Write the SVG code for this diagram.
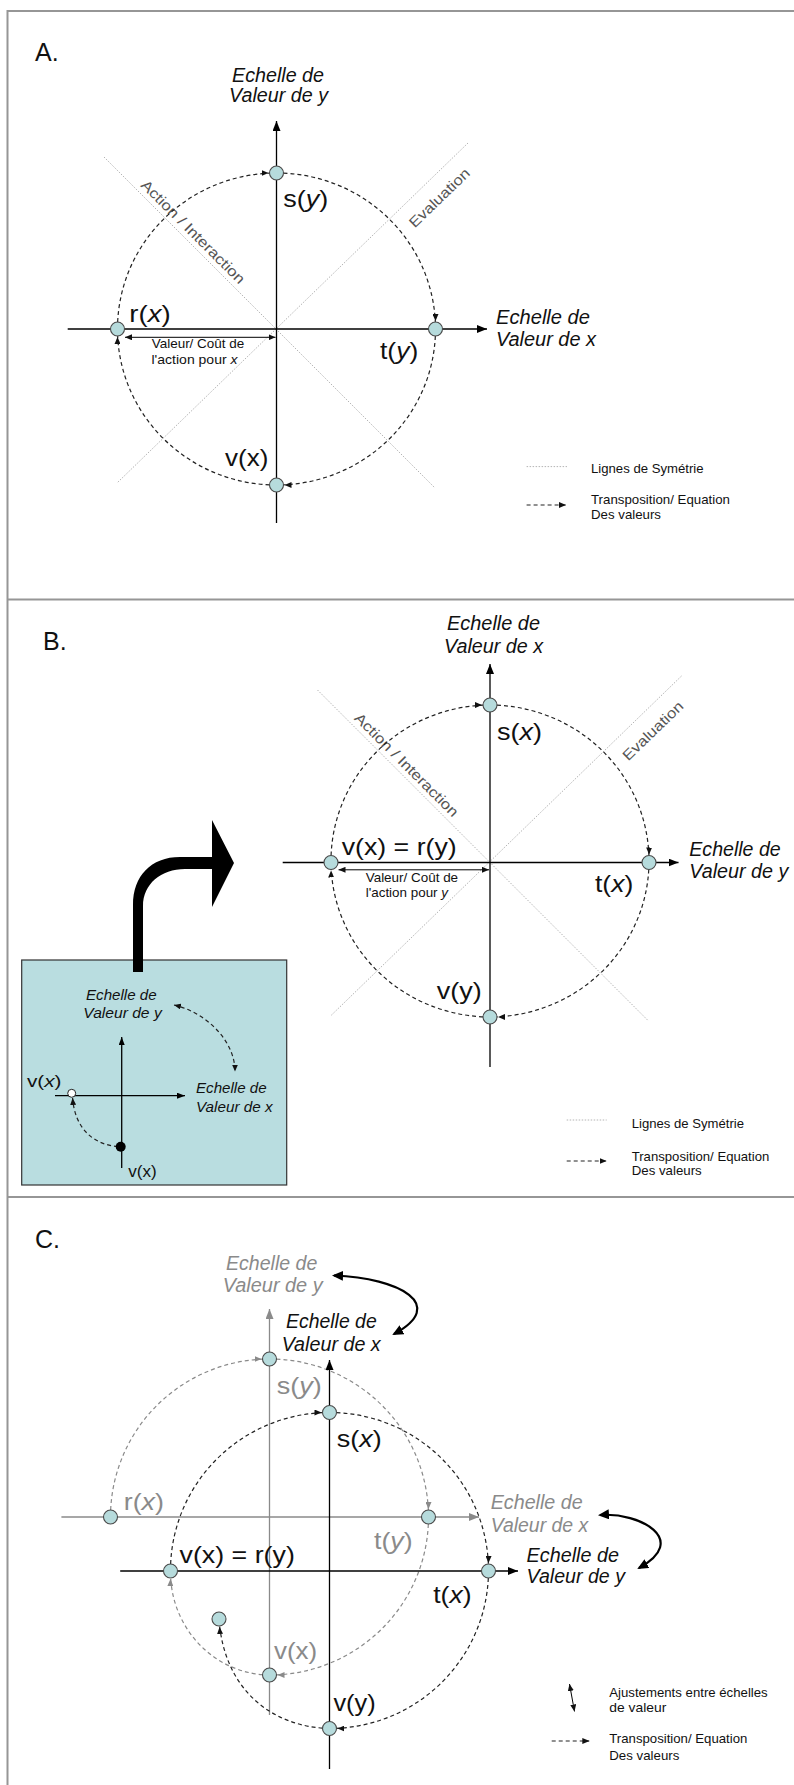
<svg xmlns="http://www.w3.org/2000/svg" width="794" height="1785" viewBox="0 0 794 1785">
<defs>
<style>
text{font-family:"Liberation Sans",Arial,Helvetica,sans-serif;fill:#111}
.pl{font-size:25px}
.ax{font-size:20px;font-style:italic}
.fn{font-size:24px}
.sm{font-size:13px}
.bx{font-size:15px;font-style:italic}
.bv{font-size:16px}
.sy{font-size:14.5px;fill:#555}
.g{fill:#8a8a8a}
.it{font-style:italic}
.frame{stroke:#969696;stroke-width:2;fill:none}
.axis{stroke:#000;stroke-width:1.3;fill:none}
.axis-g{stroke:#8a8a8a;stroke-width:1.3;fill:none}
.arc{stroke:#222;stroke-width:1.2;stroke-dasharray:4 3;fill:none}
.arc-g{stroke:#8a8a8a;stroke-width:1.2;stroke-dasharray:4 3;fill:none}
.symline{stroke:#b4b4b4;stroke-width:1;stroke-dasharray:1.5 1.5;fill:none}
.node{fill:#b6dbdc;stroke:#4a4a4a;stroke-width:1.1}
.thin{stroke:#000;stroke-width:1;fill:none}
.bold{stroke:#000;stroke-width:2.2;fill:none}
.box{fill:#b9dde0;stroke:#333;stroke-width:1.2}
</style>
<!-- axis arrowheads -->
<marker id="axB" viewBox="0 0 10 8" refX="10" refY="4" markerWidth="10" markerHeight="8" markerUnits="userSpaceOnUse" orient="auto"><path d="M0,0 L10,4 L0,8 Z" fill="#000"/></marker>
<marker id="axG" viewBox="0 0 10 8" refX="10" refY="4" markerWidth="10" markerHeight="8" markerUnits="userSpaceOnUse" orient="auto"><path d="M0,0 L10,4 L0,8 Z" fill="#8a8a8a"/></marker>
<marker id="axS" viewBox="0 0 8 6" refX="8" refY="3" markerWidth="8" markerHeight="6" markerUnits="userSpaceOnUse" orient="auto"><path d="M0,0 L8,3 L0,6 Z" fill="#000"/></marker>
<!-- arrowheads stopping at the rim of a node (r = 7) -->
<marker id="nB" viewBox="0 0 16 6" refX="15" refY="3" markerWidth="16" markerHeight="6" markerUnits="userSpaceOnUse" orient="auto"><path d="M0,0 L7,3 L0,6 Z" fill="#111"/></marker>
<marker id="nG" viewBox="0 0 16 6" refX="15" refY="3" markerWidth="16" markerHeight="6" markerUnits="userSpaceOnUse" orient="auto"><path d="M0,0 L7,3 L0,6 Z" fill="#8a8a8a"/></marker>
<!-- plain small arrowheads -->
<marker id="tip" viewBox="0 0 7 6" refX="7" refY="3" markerWidth="7" markerHeight="6" markerUnits="userSpaceOnUse" orient="auto-start-reverse"><path d="M0,0 L7,3 L0,6 Z" fill="#111"/></marker>
<!-- heavy arrowheads for the scale swaps -->
<marker id="hv" viewBox="0 0 11 10" refX="9" refY="5" markerWidth="11" markerHeight="10" markerUnits="userSpaceOnUse" orient="auto-start-reverse"><path d="M0,0 L11,5 L0,10 Z" fill="#000"/></marker>
</defs>

<rect width="794" height="1785" fill="#fff"/>

<!-- outer frame and panel separators -->
<g id="frame">
<path class="frame" d="M7.5,1785 V11 H794"/>
<path class="frame" d="M7.5,599.5 H794"/>
<path class="frame" d="M7.5,1197 H794"/>
</g>

<!-- ===================== A ===================== -->
<g id="panel-a">
<text class="pl" x="35" y="61">A.</text>

<g id="a-symmetry">
<path class="symline" d="M104,157 L435,488"/>
<path class="symline" d="M468,143 L117,483"/>
<text class="sy" x="189.6" y="235.4" text-anchor="middle" transform="rotate(45 189.6 235.4)" textLength="140" lengthAdjust="spacingAndGlyphs">Action / Interaction</text>
<text class="sy" x="442.8" y="201.5" text-anchor="middle" transform="rotate(-44 442.8 201.5)" textLength="78" lengthAdjust="spacingAndGlyphs">Evaluation</text>
</g>

<g id="a-connectors">
<path class="axis" d="M276.5,523 V121" marker-end="url(#axB)"/>
<path class="axis" d="M67.7,329 H487" marker-end="url(#axB)"/>
<path class="arc" d="M117.5,329 A159,156 0 0 1 276.5,173" marker-end="url(#nB)"/>
<path class="arc" d="M276.5,173 A159,156 0 0 1 435.5,329" marker-end="url(#nB)"/>
<path class="arc" d="M435.5,329 A159,156 0 0 1 276.5,485" marker-end="url(#nB)"/>
<path class="arc" d="M276.5,485 A159,156 0 0 1 117.5,329" marker-end="url(#nB)"/>
<path class="thin" d="M125,337.3 H275.5" marker-start="url(#tip)" marker-end="url(#tip)"/>
</g>

<g id="a-label-y">
<text class="ax" x="232" y="82" textLength="92" lengthAdjust="spacingAndGlyphs">Echelle de</text>
<text class="ax" x="229" y="102" textLength="99" lengthAdjust="spacingAndGlyphs">Valeur de y</text>
</g>
<g id="a-label-x">
<text class="ax" x="496" y="323.5" textLength="94" lengthAdjust="spacingAndGlyphs">Echelle de</text>
<text class="ax" x="496" y="346" textLength="100" lengthAdjust="spacingAndGlyphs">Valeur de x</text>
</g>

<g id="a-node-s"><circle class="node" cx="276.5" cy="173" r="7"/>
<text class="fn" x="283.3" y="207" textLength="45" lengthAdjust="spacingAndGlyphs">s(<tspan class="it">y</tspan>)</text></g>
<g id="a-node-t"><circle class="node" cx="435.5" cy="329" r="7"/>
<text class="fn" x="380" y="359" textLength="38.3" lengthAdjust="spacingAndGlyphs">t(<tspan class="it">y</tspan>)</text></g>
<g id="a-node-v"><circle class="node" cx="276.5" cy="485" r="7"/>
<text class="fn" x="225" y="466" textLength="43.3" lengthAdjust="spacingAndGlyphs">v(x)</text></g>
<g id="a-node-r"><circle class="node" cx="117.5" cy="329" r="7"/>
<text class="fn" x="129.3" y="321.7" textLength="41.4" lengthAdjust="spacingAndGlyphs">r(<tspan class="it">x</tspan>)</text></g>

<g id="a-cost">
<text class="sm" x="151.7" y="348.3" textLength="92.6" lengthAdjust="spacingAndGlyphs">Valeur/ Coût de</text>
<text class="sm" x="151.5" y="364" textLength="86" lengthAdjust="spacingAndGlyphs">l'action pour <tspan class="it">x</tspan></text>
</g>

<g id="a-legend">
<path class="symline" d="M526.6,466.6 H567"/>
<text class="sm" x="591" y="472.5" textLength="112.5" lengthAdjust="spacingAndGlyphs">Lignes de Symétrie</text>
<path class="arc" d="M526.6,505 H566" marker-end="url(#tip)"/>
<text class="sm" x="591" y="504" textLength="139" lengthAdjust="spacingAndGlyphs">Transposition/ Equation</text>
<text class="sm" x="591" y="519" textLength="70" lengthAdjust="spacingAndGlyphs">Des valeurs</text>
</g>
</g>

<!-- ===================== B ===================== -->
<g id="panel-b">
<text class="pl" x="43" y="650">B.</text>

<g id="b-symmetry">
<path class="symline" d="M317.5,690 L648.5,1021"/>
<path class="symline" d="M681.5,676 L330.5,1016"/>
<text class="sy" x="403.1" y="768.4" text-anchor="middle" transform="rotate(45 403.1 768.4)" textLength="140" lengthAdjust="spacingAndGlyphs">Action / Interaction</text>
<text class="sy" x="656.3" y="734.5" text-anchor="middle" transform="rotate(-44 656.3 734.5)" textLength="78" lengthAdjust="spacingAndGlyphs">Evaluation</text>
</g>

<g id="b-connectors">
<path class="axis" d="M490,1067 V664" marker-end="url(#axB)"/>
<path class="axis" d="M282.7,862.5 H678.5" marker-end="url(#axB)"/>
<path class="arc" d="M331,862.5 A159.5,156 0 0 1 490,705" marker-end="url(#nB)"/>
<path class="arc" d="M490,705 A159.5,156 0 0 1 649,862.5" marker-end="url(#nB)"/>
<path class="arc" d="M649,862.5 A159.5,156 0 0 1 490,1017" marker-end="url(#nB)"/>
<path class="arc" d="M490,1017 A159.5,156 0 0 1 331,862.5" marker-end="url(#nB)"/>
<path class="thin" d="M338.5,869.8 H489" marker-start="url(#tip)" marker-end="url(#tip)"/>
</g>

<g id="b-label-x">
<text class="ax" x="447" y="630" textLength="93" lengthAdjust="spacingAndGlyphs">Echelle de</text>
<text class="ax" x="444" y="652.7" textLength="99" lengthAdjust="spacingAndGlyphs">Valeur de x</text>
</g>
<g id="b-label-y">
<text class="ax" x="689.3" y="856" textLength="91.4" lengthAdjust="spacingAndGlyphs">Echelle de</text>
<text class="ax" x="689.3" y="878.3" textLength="99" lengthAdjust="spacingAndGlyphs">Valeur de y</text>
</g>

<g id="b-node-s"><circle class="node" cx="490" cy="705" r="7"/>
<text class="fn" x="497" y="740" textLength="45" lengthAdjust="spacingAndGlyphs">s(<tspan class="it">x</tspan>)</text></g>
<g id="b-node-t"><circle class="node" cx="649" cy="862.5" r="7"/>
<text class="fn" x="595" y="892" textLength="38.3" lengthAdjust="spacingAndGlyphs">t(<tspan class="it">x</tspan>)</text></g>
<g id="b-node-v"><circle class="node" cx="490" cy="1017" r="7"/>
<text class="fn" x="436.7" y="999" textLength="45" lengthAdjust="spacingAndGlyphs">v(y)</text></g>
<g id="b-node-r"><circle class="node" cx="331" cy="862.5" r="7"/>
<text class="fn" x="341.7" y="854.5" textLength="115" lengthAdjust="spacingAndGlyphs">v(x) = r(y)</text></g>

<g id="b-cost">
<text class="sm" x="365.7" y="881.7" textLength="92.4" lengthAdjust="spacingAndGlyphs">Valeur/ Coût de</text>
<text class="sm" x="365.7" y="897.3" textLength="82.3" lengthAdjust="spacingAndGlyphs">l'action pour <tspan class="it">y</tspan></text>
</g>

<g id="b-legend">
<path class="symline" d="M566.7,1120 H606.7"/>
<text class="sm" x="631.7" y="1127.7" textLength="112.3" lengthAdjust="spacingAndGlyphs">Lignes de Symétrie</text>
<path class="arc" d="M566.7,1161 H606.7" marker-end="url(#tip)"/>
<text class="sm" x="631.7" y="1160.7" textLength="137.6" lengthAdjust="spacingAndGlyphs">Transposition/ Equation</text>
<text class="sm" x="631.7" y="1175" textLength="70" lengthAdjust="spacingAndGlyphs">Des valeurs</text>
</g>

<!-- inset: swap of the two value scales -->
<g id="b-inset">
<rect class="box" x="21.7" y="960" width="265" height="225"/>
<path id="b-swap-arrow" fill="#000" d="M133,972 L133,905 C133,876 151,857 180,857 L212,857 L212,820 L234,863 L212,907 L212,869 L185,869 C161,869 143,884 143,906 L143,972 Z"/>
<path class="axis" d="M121.7,1168 V1037" marker-end="url(#axS)"/>
<path class="axis" d="M55,1095.7 H185" marker-end="url(#axS)"/>
<path class="arc" d="M174,1005 C205,1012 235,1040 235,1071.5" marker-start="url(#tip)" marker-end="url(#tip)"/>
<path class="arc" d="M118,1146.5 C95,1145 75,1130 72.6,1098" marker-end="url(#tip)"/>
<circle cx="71.7" cy="1093.3" r="4" fill="#fff" stroke="#222" stroke-width="1"/>
<circle cx="120.7" cy="1146.7" r="5" fill="#000"/>
<text class="bx" x="86" y="1000" textLength="70.7" lengthAdjust="spacingAndGlyphs">Echelle de</text>
<text class="bx" x="83.3" y="1018.3" textLength="78.4" lengthAdjust="spacingAndGlyphs">Valeur de y</text>
<text class="bx" x="196" y="1093.3" textLength="70.7" lengthAdjust="spacingAndGlyphs">Echelle de</text>
<text class="bx" x="196" y="1111.7" textLength="76.7" lengthAdjust="spacingAndGlyphs">Valeur de x</text>
<text class="bv" x="27" y="1086.7" textLength="34.5" lengthAdjust="spacingAndGlyphs">v(<tspan class="it">x</tspan>)</text>
<text class="bv" x="128.3" y="1176.7" textLength="28.4" lengthAdjust="spacingAndGlyphs">v(x)</text>
</g>
</g>

<!-- ===================== C ===================== -->
<g id="panel-c">
<text class="pl" x="35" y="1248.3">C.</text>

<!-- former scales (grey) -->
<g id="c-connectors-grey">
<path class="axis-g" d="M269.5,1715 V1309" marker-end="url(#axG)"/>
<path class="axis-g" d="M61.4,1517 H479" marker-end="url(#axG)"/>
<path class="arc-g" d="M110.5,1517 A159,158 0 0 1 269.5,1359" marker-end="url(#nG)"/>
<path class="arc-g" d="M269.5,1359 A159,158 0 0 1 428.5,1517" marker-end="url(#nG)"/>
<path class="arc-g" d="M428.5,1517 A159,158 0 0 1 269.5,1675" marker-end="url(#nG)"/>
<path class="arc-g" d="M269.5,1675 A100,103 0 0 1 170.5,1571" marker-end="url(#nG)"/>
</g>

<!-- current scales (black) -->
<g id="c-connectors">
<path class="axis" d="M329.5,1769 V1360" marker-end="url(#axB)"/>
<path class="axis" d="M120.2,1571 H518" marker-end="url(#axB)"/>
<path class="arc" d="M170.5,1571 A159,158 0 0 1 329.5,1412.5" marker-end="url(#nB)"/>
<path class="arc" d="M329.5,1412.5 A159,158 0 0 1 488.5,1571" marker-end="url(#nB)"/>
<path class="arc" d="M488.5,1571 A159,158 0 0 1 329.5,1728.5" marker-end="url(#nB)"/>
<path class="arc" d="M329.5,1728.5 C272,1727 224,1690 219,1619" marker-end="url(#nB)"/>
<path class="bold" d="M334,1275.5 C400,1278 448,1305 394,1334" marker-start="url(#hv)" marker-end="url(#hv)"/>
<path class="bold" d="M600,1515 C640,1512 690,1540 639,1568" marker-start="url(#hv)" marker-end="url(#hv)"/>
</g>

<g id="c-label-y-grey">
<text class="ax g" x="226" y="1270" textLength="91.3" lengthAdjust="spacingAndGlyphs">Echelle de</text>
<text class="ax g" x="222.7" y="1291.7" textLength="100" lengthAdjust="spacingAndGlyphs">Valeur de y</text>
</g>
<g id="c-label-x">
<text class="ax" x="286" y="1328.3" textLength="90.7" lengthAdjust="spacingAndGlyphs">Echelle de</text>
<text class="ax" x="281.7" y="1350.7" textLength="99" lengthAdjust="spacingAndGlyphs">Valeur de x</text>
</g>
<g id="c-label-x-grey">
<text class="ax g" x="490.7" y="1509.3" textLength="92" lengthAdjust="spacingAndGlyphs">Echelle de</text>
<text class="ax g" x="490.7" y="1531.7" textLength="97.6" lengthAdjust="spacingAndGlyphs">Valeur de x</text>
</g>
<g id="c-label-y">
<text class="ax" x="526.6" y="1561.7" textLength="92.4" lengthAdjust="spacingAndGlyphs">Echelle de</text>
<text class="ax" x="526.6" y="1583.3" textLength="98.4" lengthAdjust="spacingAndGlyphs">Valeur de y</text>
</g>

<g id="c-node-sy"><circle class="node" cx="269.5" cy="1359" r="7"/>
<text class="fn g" x="276.7" y="1393.5" textLength="45" lengthAdjust="spacingAndGlyphs">s(<tspan class="it">y</tspan>)</text></g>
<g id="c-node-ty"><circle class="node" cx="428.5" cy="1517" r="7"/>
<text class="fn g" x="374" y="1549.2" textLength="38.6" lengthAdjust="spacingAndGlyphs">t(<tspan class="it">y</tspan>)</text></g>
<g id="c-node-vx-grey"><circle class="node" cx="269.5" cy="1675" r="7"/>
<text class="fn g" x="274" y="1659.4" textLength="43.2" lengthAdjust="spacingAndGlyphs">v(x)</text></g>
<g id="c-node-rx"><circle class="node" cx="110.5" cy="1517" r="7"/>
<text class="fn g" x="123.7" y="1509.6" textLength="40.3" lengthAdjust="spacingAndGlyphs">r(<tspan class="it">x</tspan>)</text></g>

<g id="c-node-sx"><circle class="node" cx="329.5" cy="1412.5" r="7"/>
<text class="fn" x="336.7" y="1447.3" textLength="45" lengthAdjust="spacingAndGlyphs">s(<tspan class="it">x</tspan>)</text></g>
<g id="c-node-tx"><circle class="node" cx="488.5" cy="1571" r="7"/>
<text class="fn" x="433.2" y="1602.6" textLength="38.3" lengthAdjust="spacingAndGlyphs">t(<tspan class="it">x</tspan>)</text></g>
<g id="c-node-vy"><circle class="node" cx="329.5" cy="1728.5" r="7"/>
<text class="fn" x="333.4" y="1711" textLength="42.3" lengthAdjust="spacingAndGlyphs">v(y)</text></g>
<g id="c-node-ry"><circle class="node" cx="170.5" cy="1571" r="7"/>
<text class="fn" x="179.5" y="1563" textLength="115.3" lengthAdjust="spacingAndGlyphs">v(x) = r(y)</text></g>
<g id="c-node-extra"><circle class="node" cx="219" cy="1619" r="7"/></g>

<g id="c-legend">
<path class="thin" stroke-width="1.3" d="M569.5,1684 L574.5,1711.5" marker-start="url(#tip)" marker-end="url(#tip)"/>
<text class="sm" x="609.3" y="1696.7" textLength="158.4" lengthAdjust="spacingAndGlyphs">Ajustements entre échelles</text>
<text class="sm" x="609.3" y="1711.7" textLength="57" lengthAdjust="spacingAndGlyphs">de valeur</text>
<path class="arc" d="M551.7,1741 H589.3" marker-end="url(#tip)"/>
<text class="sm" x="609.3" y="1743.3" textLength="138" lengthAdjust="spacingAndGlyphs">Transposition/ Equation</text>
<text class="sm" x="609.3" y="1760" textLength="70" lengthAdjust="spacingAndGlyphs">Des valeurs</text>
</g>
</g>
</svg>
